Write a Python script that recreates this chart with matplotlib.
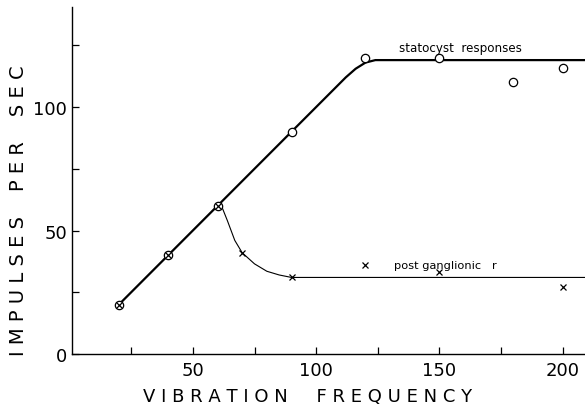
import numpy as np
import matplotlib
matplotlib.use("Agg")
import matplotlib.pyplot as plt

# Olculen noktalar
stat_freq = [20, 40, 60, 90, 120, 150, 180, 200]
stat_imp = [20, 40, 60, 90, 120, 120, 110, 116]

post_freq = [20, 40, 60, 70, 90, 120, 150, 200]
post_imp = [20, 40, 60, 41, 31, 36, 33, 27]

# Elle cizilmis egriler
stat_curve_x = [20, 112, 116, 120, 124, 130, 209]
stat_curve_y = [20, 112, 115.5, 118, 119, 119, 119]

post_curve_x = [20, 40, 60, 62, 64, 67, 70, 75, 80, 85, 90, 209]
post_curve_y = [20, 40, 60, 59, 54, 46, 41, 36.5, 33.5, 32, 31, 31]

fig = plt.figure(figsize=(5.85, 4.10), dpi=100)
ax = fig.add_axes([72 / 585, 55 / 410, 1 - 72 / 585, 1 - 55 / 410 - 8 / 410])

ax.plot(stat_curve_x, stat_curve_y, color="black", linewidth=1.6)
ax.plot(post_curve_x, post_curve_y, color="black", linewidth=0.8)

ax.plot(stat_freq, stat_imp, linestyle="none", marker="o", markersize=6,
        markerfacecolor="white", markeredgecolor="black", markeredgewidth=0.9)
ax.plot(post_freq, post_imp, linestyle="none", marker="x", markersize=4,
        color="black", markeredgewidth=0.9)

ax.text(158.5, 124, "statocyst  responses", ha="center", va="center", fontsize=8.6)
ax.text(152.5, 36, "post ganglionic   r", ha="center", va="center", fontsize=8.2)

ax.set_xlim(1, 209)
ax.set_ylim(0, 140.5)
ax.set_xticks([50, 100, 150, 200])
ax.set_xticks([25, 75, 125, 175], minor=True)
ax.set_yticks([0, 50, 100])
ax.set_yticks([25, 75, 125], minor=True)
ax.tick_params(which="both", direction="in", labelsize=13, length=5, width=0.9)
ax.tick_params(axis="x", pad=5)

for s in ["top", "right"]:
    ax.spines[s].set_visible(False)
ax.spines["left"].set_linewidth(1.0)
ax.spines["bottom"].set_linewidth(1.0)

ax.set_xlabel("V I B R A T I O N     F R E Q U E N C Y", fontsize=13)
ax.set_ylabel("I M P U L S E S    P E R    S E C", fontsize=14)
ax.xaxis.set_label_coords(0.46, -0.095)
ax.yaxis.set_label_coords(-0.085, 0.415)

fig.savefig("out.png", dpi=100)
